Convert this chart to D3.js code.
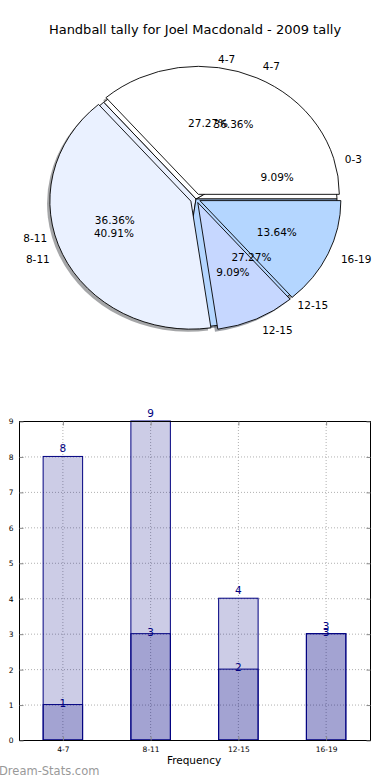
<!DOCTYPE html>
<html lang="en">
<head>
<meta charset="UTF-8">
<title>Handball tally for Joel Macdonald - 2009 tally</title>
<style>
  body { margin: 0; background: #fff; }
  svg { display: block; font-family: "DejaVu Sans", sans-serif; }
  .grid line { stroke: #b0b0b0; stroke-dasharray: 1,2; }
</style>
</head>
<body>
<svg id="chart" width="390" height="780"></svg>
<script src="https://cdn.jsdelivr.net/npm/d3@7"></script>
<script>
// pie data (two overlaid tallies)
const pieALabels = ['4-7', '8-11', '12-15', '16-19'];
const pieAValues = [8, 9, 2, 3];
const pieAColors = ['#ffffff', '#eaf1ff', '#c6d7ff', '#b4d6ff'];
const pieAExplode = [0.04, 0.04, 0.03, 0.03];

const pieBLabels = ['0-3', '4-7', '8-11', '12-15'];
const pieBValues = [1, 3, 4, 3];
const pieBColors = ['#ffffff', '#ffffff', '#eaf1ff', '#b4d6ff'];

// bar data
const barCats = ['4-7', '8-11', '12-15', '16-19'];
const barTotal = [8, 9, 4, 3];
const barPart = [1, 3, 2, 3];
const yTicks = [0, 1, 2, 3, 4, 5, 6, 7, 8, 9];

const svg = d3.select('#chart');

svg.append('text')
  .attr('x', 195).attr('y', 34)
  .attr('text-anchor', 'middle')
  .style('font-size', '13px')
  .text('Handball tally for Joel Macdonald - 2009 tally');

// ---- pie ----
const cx = 196, cy = 199, rx = 141, ry = 128, R = 100;

// matplotlib style: start at 3 o'clock, go counter clockwise
const pie = d3.pie().sort(null)
  .startAngle(Math.PI / 2)
  .endAngle(Math.PI / 2 - 2 * Math.PI);
const arc = d3.arc().innerRadius(0).outerRadius(R);

function pieData(labels, values, colors, explode) {
  const total = d3.sum(values);
  return pie(values).map((d, i) => {
    const m = (d.startAngle + d.endAngle) / 2;
    const ex = explode ? explode[i] : 0;
    return {
      arc: d, label: labels[i], color: colors[i],
      pct: (values[i] / total * 100).toFixed(2) + '%',
      ux: Math.sin(m), uy: -Math.cos(m), ex: ex
    };
  });
}

const sliceA = pieData(pieALabels, pieAValues, pieAColors, pieAExplode);
const sliceB = pieData(pieBLabels, pieBValues, pieBColors, null);
const allSlices = sliceB.concat(sliceA);

const pieG = svg.append('g');

function place(d, dist, sx, sy) {
  return [cx + (d.ux * (dist + d.ex) + (sx || 0)) * rx,
          cy + (d.uy * (dist + d.ex) + (sy || 0)) * ry];
}

// shadows first, beneath every wedge
pieG.selectAll('path.shadow')
  .data(allSlices)
  .join('path')
  .attr('class', 'shadow')
  .attr('d', d => arc(d.arc))
  .attr('transform', d => {
    const p = place(d, 0, -0.02, 0.02);
    return `translate(${p[0]},${p[1]}) scale(${rx / R},${ry / R})`;
  })
  .attr('fill', d => d3.color(d.color).darker(3.2))
  .attr('fill-opacity', 0.5);

pieG.selectAll('path.wedge')
  .data(allSlices)
  .join('path')
  .attr('class', 'wedge')
  .attr('d', d => arc(d.arc))
  .attr('transform', d => {
    const p = place(d, 0);
    return `translate(${p[0]},${p[1]}) scale(${rx / R},${ry / R})`;
  })
  .attr('fill', d => d.color)
  .attr('stroke', '#000')
  .attr('stroke-width', 0.9)
  .attr('vector-effect', 'non-scaling-stroke');

pieG.selectAll('text.lbl')
  .data(allSlices)
  .join('text')
  .attr('class', 'lbl')
  .attr('x', d => place(d, 1.1)[0])
  .attr('y', d => place(d, 1.1)[1])
  .attr('dy', '0.35em')
  .attr('text-anchor', d => d.ux > 0 ? 'start' : 'end')
  .style('font-size', '10.5px')
  .text(d => d.label);

pieG.selectAll('text.pct')
  .data(allSlices)
  .join('text')
  .attr('class', 'pct')
  .attr('x', d => place(d, 0.6)[0])
  .attr('y', d => place(d, 0.6)[1])
  .attr('dy', '0.35em')
  .attr('text-anchor', 'middle')
  .style('font-size', '10.5px')
  .text(d => d.pct);

// ---- bar chart ----
const plotL = 19, plotR = 370, plotT = 421, plotB = 740;

const x = d3.scaleBand().domain(barCats).range([plotL, plotR]).padding(0);
const y = d3.scaleLinear().domain([0, 9]).range([plotB, plotT]);
const bw = x.bandwidth() * 0.45;
const xc = c => x(c) + x.bandwidth() / 2;

const grid = svg.append('g').attr('class', 'grid');
grid.selectAll('line.h').data(yTicks).join('line')
  .attr('x1', plotL).attr('x2', plotR)
  .attr('y1', d => y(d) + 0.5).attr('y2', d => y(d) + 0.5);
grid.selectAll('line.v').data(barCats).join('line')
  .attr('x1', d => xc(d)).attr('x2', d => xc(d))
  .attr('y1', plotT).attr('y2', plotB);

const navy = '#000080';

[barTotal, barPart].forEach((vals, k) => {
  const g = svg.append('g');
  g.selectAll('rect').data(barCats).join('rect')
    .attr('x', d => xc(d) - bw / 2)
    .attr('y', (d, i) => y(vals[i]))
    .attr('width', bw)
    .attr('height', (d, i) => plotB - y(vals[i]))
    .attr('fill', navy)
    .attr('fill-opacity', 0.2)
    .attr('stroke', navy)
    .attr('stroke-width', 1);
  g.selectAll('text').data(barCats).join('text')
    .attr('x', d => xc(d))
    .attr('y', (d, i) => y(vals[i]) + (k === 0 ? -4 : 2))
    .attr('text-anchor', 'middle')
    .attr('fill', navy)
    .style('font-size', '10.5px')
    .text((d, i) => vals[i]);
});

// frame + axes
svg.append('rect')
  .attr('x', plotL + 0.5).attr('y', plotT + 0.5)
  .attr('width', plotR - plotL).attr('height', plotB - plotT)
  .attr('fill', 'none').attr('stroke', '#000');

const yAxis = svg.append('g')
  .attr('transform', `translate(${plotL + 0.5},0.5)`)
  .call(d3.axisLeft(y).tickValues(yTicks).tickSize(-4).tickPadding(6));
const yAxisR = svg.append('g')
  .attr('transform', `translate(${plotR + 0.5},0.5)`)
  .call(d3.axisRight(y).tickValues(yTicks).tickSize(-4).tickFormat(''));
const xAxis = svg.append('g')
  .attr('transform', `translate(0.5,${plotB + 0.5})`)
  .call(d3.axisBottom(x).tickSize(-4).tickPadding(6));
const xAxisT = svg.append('g')
  .attr('transform', `translate(0.5,${plotT + 0.5})`)
  .call(d3.axisTop(x).tickSize(-4).tickFormat(''));

[yAxis, yAxisR, xAxis, xAxisT].forEach(a => {
  a.select('.domain').remove();
  a.selectAll('.tick line').attr('stroke', '#888');
  a.selectAll('.tick text')
    .style('font-family', '"DejaVu Sans", sans-serif')
    .style('font-size', '7.5px')
    .attr('fill', '#000');
});

svg.append('text')
  .attr('x', 194).attr('y', 764)
  .attr('text-anchor', 'middle')
  .style('font-size', '10.5px')
  .text('Frequency');

svg.append('text')
  .attr('x', -1).attr('y', 775)
  .style('font-size', '11.5px')
  .attr('fill', '#999')
  .text('Dream-Stats.com');
</script>
</body>
</html>
